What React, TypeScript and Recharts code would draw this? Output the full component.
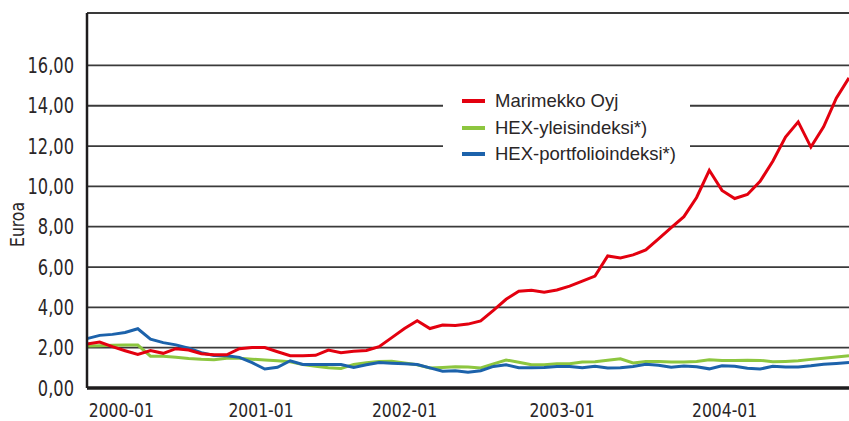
import React from "react";
import {
  LineChart,
  Line,
  XAxis,
  YAxis,
  CartesianGrid,
  Legend,
} from "recharts";

// kuukaudet 2000-01 ... 2005-01
const months = Array.from(
  { length: 61 },
  (_, i) => `${2000 + Math.floor(i / 12)}-${String((i % 12) + 1).padStart(2, "0")}`
);

const marimekko = [
  2.18, 2.28, 2.05, 1.85, 1.66, 1.86, 1.72, 1.95, 1.88, 1.7,
  1.65, 1.65, 1.95, 2.01, 2.01, 1.8, 1.6, 1.6, 1.62, 1.88,
  1.75, 1.82, 1.86, 2.05, 2.5, 2.95, 3.34, 2.95, 3.12, 3.1,
  3.17, 3.33, 3.85, 4.4, 4.8, 4.85, 4.75, 4.86, 5.05, 5.3,
  5.55, 6.55, 6.45, 6.6, 6.85, 7.4, 7.95, 8.5, 9.45, 10.8,
  9.8, 9.4, 9.6, 10.25, 11.25, 12.45, 13.2, 11.95, 12.95, 14.38,
  15.38,
];

const hexYleis = [
  2.08, 2.1, 2.12, 2.13, 2.13, 1.58, 1.57, 1.52, 1.46, 1.42,
  1.4, 1.47, 1.48, 1.43, 1.39, 1.35, 1.3, 1.16, 1.08, 1.0,
  0.97, 1.17, 1.25, 1.31, 1.33, 1.24, 1.15, 0.99, 1.02, 1.05,
  1.04, 0.99, 1.2, 1.39, 1.28, 1.15, 1.15, 1.2, 1.2, 1.29,
  1.3, 1.38, 1.45, 1.24, 1.32, 1.31, 1.29, 1.29, 1.32, 1.4,
  1.36, 1.36, 1.38, 1.37, 1.3, 1.32, 1.35, 1.42, 1.48, 1.54,
  1.6,
];

const hexPortfolio = [
  2.45, 2.61, 2.66, 2.75, 2.94, 2.42, 2.25, 2.14, 1.97, 1.75,
  1.61, 1.6, 1.52, 1.26, 0.94, 1.03, 1.35, 1.17, 1.17, 1.16,
  1.16, 1.02, 1.15, 1.26, 1.23, 1.2, 1.16, 1.0, 0.83, 0.85,
  0.78, 0.86, 1.07, 1.15, 1.01, 1.0, 1.02, 1.07, 1.07, 1.0,
  1.08, 0.99, 1.0, 1.07, 1.18, 1.13, 1.03, 1.09, 1.05, 0.95,
  1.1, 1.08, 0.98, 0.94, 1.08, 1.04, 1.04, 1.1, 1.18, 1.22,
  1.26,
];

const yTicks = [0, 2, 4, 6, 8, 10, 12, 14, 16];
const yearLabels = ["2000-01", "2001-01", "2002-01", "2003-01", "2004-01"];
const yearTickAt = [2.7, 13.7, 25.0, 37.4, 50.2];

const series = [
  { key: "marimekko", name: "Marimekko Oyj", color: "#e3000f" },
  { key: "hexYleis", name: "HEX-yleisindeksi*)", color: "#8dc63f" },
  { key: "hexPortfolio", name: "HEX-portfolioindeksi*)", color: "#1c62ab" },
];

const data = months.map((month, i) => ({
  month,
  marimekko: marimekko[i],
  hexYleis: hexYleis[i],
  hexPortfolio: hexPortfolio[i],
}));

const narrow = "'DejaVu Sans Condensed', 'Liberation Sans Narrow', sans-serif";
const textColor = "#2a2627";

// kapeampi kirjasin: skaalataan vaakasuunnassa
const YTick = ({ x, y, payload }: any) => (
  <g transform={`translate(${x},${y})`}>
    <text
      transform="scale(0.86,1)"
      textAnchor="end"
      dy="0.36em"
      fontFamily={narrow}
      fontSize={21}
      fill={textColor}
    >
      {payload.value.toFixed(2).replace(".", ",")}
    </text>
  </g>
);

const YearTick = ({ x, y, index }: any) => (
  <g transform={`translate(${x},${y})`}>
    <text
      transform="scale(0.89,1)"
      textAnchor="middle"
      dy="0.73em"
      fontFamily={narrow}
      fontSize={19.5}
      fill={textColor}
    >
      {yearLabels[index]}
    </text>
  </g>
);

const LegendBox = () => (
  <div
    style={{
      background: "#fff",
      width: 247,
      height: 80,
      paddingTop: 3,
      boxSizing: "border-box",
      fontFamily: "'Liberation Sans', Arial, sans-serif",
      fontSize: 18.5,
      color: textColor,
    }}
  >
    {series.map((s) => (
      <div
        key={s.key}
        style={{ display: "flex", alignItems: "center", height: 26.5, paddingLeft: 19 }}
      >
        <span style={{ width: 23, height: 4, background: s.color, marginRight: 10 }} />
        <span>{s.name}</span>
      </div>
    ))}
  </div>
);

export default function App() {
  return (
    <div style={{ position: "absolute", left: 0, top: 0 }}>
      <LineChart
        width={849}
        height={421}
        data={data}
        margin={{ top: 13, right: 0, left: 0, bottom: 0 }}
      >
        <CartesianGrid vertical={false} stroke="#3a3a3a" strokeWidth={1.8} />
        <XAxis
          dataKey="month"
          interval={0}
          tick={false}
          tickSize={7}
          height={8}
          tickLine={{ stroke: "#6d6d6d", strokeWidth: 1 }}
          axisLine={{ stroke: "#1e1c1d", strokeWidth: 3.5 }}
        />
        <XAxis
          xAxisId="yr"
          type="number"
          domain={[0, 60]}
          allowDataOverflow
          ticks={yearTickAt}
          interval={0}
          axisLine={false}
          tickLine={false}
          tickSize={0}
          tickMargin={7}
          height={25}
          tick={<YearTick />}
        />
        <YAxis
          width={87}
          domain={[0, 18.6]}
          allowDataOverflow
          ticks={yTicks}
          interval={0}
          tickLine={false}
          tickSize={6}
          tickMargin={7}
          axisLine={{ stroke: "#1e1c1d", strokeWidth: 2.5 }}
          tick={<YTick />}
          label={({ viewBox }: any) => (
            <text
              transform={`translate(${viewBox.x + 24},${viewBox.y + viewBox.height / 2 + 24}) rotate(-90) scale(0.87,1)`}
              textAnchor="middle"
              fontFamily={narrow}
              fontSize={20}
              fill={textColor}
            >
              Euroa
            </text>
          )}
        />
        <Legend
          layout="vertical"
          align="center"
          verticalAlign="middle"
          content={() => <LegendBox />}
          wrapperStyle={{ left: 443, top: 85, width: 247, height: 80 }}
        />
        <Line
          dataKey="hexYleis"
          stroke="#8dc63f"
          strokeWidth={3}
          dot={false}
          isAnimationActive={false}
        />
        <Line
          dataKey="hexPortfolio"
          stroke="#1c62ab"
          strokeWidth={3}
          dot={false}
          isAnimationActive={false}
        />
        <Line
          dataKey="marimekko"
          stroke="#e3000f"
          strokeWidth={3}
          dot={false}
          isAnimationActive={false}
        />
      </LineChart>
    </div>
  );
}
